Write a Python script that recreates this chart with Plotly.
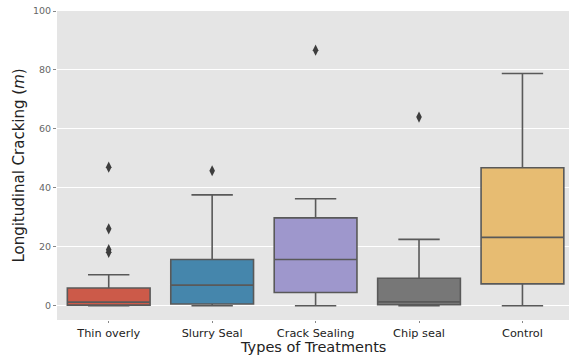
import plotly.graph_objects as go

# Treatment groups and their box statistics (longitudinal cracking, m)
categories = ["Thin overly", "Slurry Seal", "Crack Sealing", "Chip seal", "Control"]
lower_whisker = [0.0, 0.0, 0.0, 0.0, 0.0]
q1_values = [0.2, 0.6, 4.5, 0.3, 7.4]
medians = [1.2, 7.0, 15.7, 1.3, 23.2]
q3_values = [6.0, 15.7, 29.8, 9.3, 46.8]
upper_whisker = [10.5, 37.6, 36.3, 22.5, 78.8]

# Points beyond the whiskers
outlier_groups = ["Thin overly", "Thin overly", "Thin overly", "Thin overly",
                  "Slurry Seal", "Crack Sealing", "Chip seal"]
outlier_values = [47.0, 26.1, 19.0, 18.1, 45.8, 86.7, 64.0]

box_colors = ["#cc5a49", "#4586ac", "#9e97cc", "#777777", "#e7bc72"]
line_color = "#595959"

fig = go.Figure()

for i, cat in enumerate(categories):
    fig.add_trace(go.Box(
        x=[cat],
        q1=[q1_values[i]],
        median=[medians[i]],
        q3=[q3_values[i]],
        lowerfence=[lower_whisker[i]],
        upperfence=[upper_whisker[i]],
        boxpoints=False,
        width=0.8,
        whiskerwidth=0.5,
        fillcolor=box_colors[i],
        line=dict(color=line_color, width=1.6),
        showlegend=False,
        hoverinfo="skip",
    ))

fig.add_trace(go.Scatter(
    x=outlier_groups,
    y=outlier_values,
    mode="markers",
    marker=dict(symbol="diamond-tall", size=8, color="#3d3d3d"),
    showlegend=False,
    hoverinfo="skip",
))

# x-axis title placed just below the tick labels
fig.add_annotation(
    text="Types of Treatments",
    xref="paper", yref="paper",
    x=0.5, y=-0.057,
    xanchor="center", yanchor="top",
    showarrow=False,
    borderpad=0,
    font=dict(size=14.5, color="#222222"),
)

fig.update_layout(
    width=569,
    height=356,
    margin=dict(l=57, r=0, t=11, b=36),
    paper_bgcolor="white",
    plot_bgcolor="#e5e5e5",
    font=dict(family="DejaVu Sans", color="#333333"),
    xaxis=dict(
        type="category",
        categoryorder="array",
        categoryarray=categories,
        range=[-0.5, 4.45],
        showgrid=False,
        zeroline=False,
        automargin=False,
        ticks="outside",
        ticklen=2,
        tickcolor="#888888",
        tickfont=dict(size=11.3, color="#222222"),
    ),
    yaxis=dict(
        range=[-4.85, 100],
        tickvals=[0, 20, 40, 60, 80, 100],
        showgrid=True,
        gridcolor="white",
        gridwidth=1.2,
        zeroline=False,
        automargin=False,
        ticks="outside",
        ticklen=3,
        tickcolor="#888888",
        tickfont=dict(size=9.5, color="#666666"),
        title=dict(text="Longitudinal Cracking (<i>m</i>)", font=dict(size=15, color="#222222"), standoff=4),
    ),
)

fig.write_html("out.html")
